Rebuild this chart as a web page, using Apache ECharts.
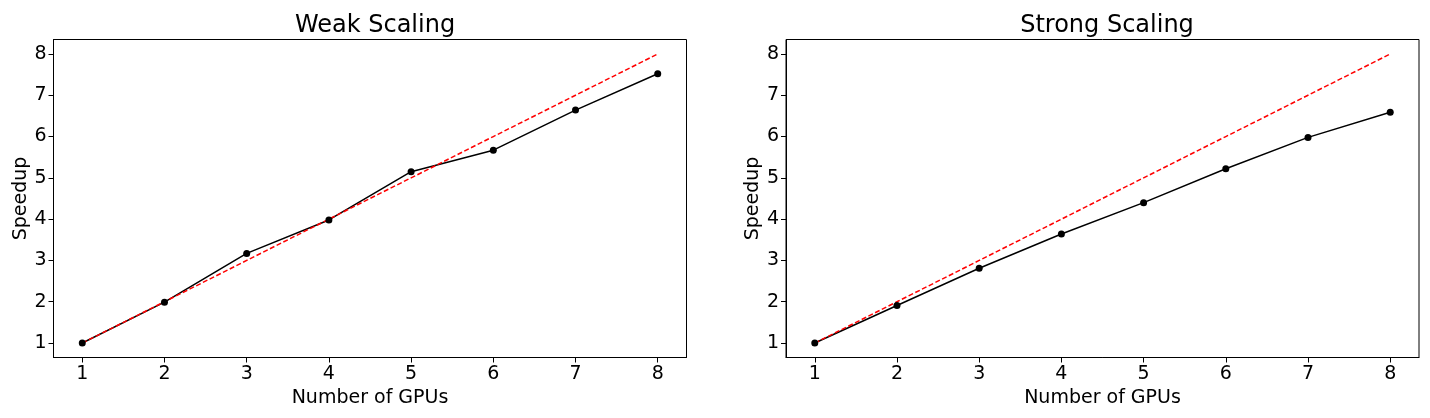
<!DOCTYPE html>
<html>
<head>
<meta charset="utf-8">
<script src="https://cdn.jsdelivr.net/npm/echarts@6/dist/echarts.min.js"></script>
<style>
  html, body { margin: 0; padding: 0; background: #fff; }
  #chart { width: 1430px; height: 418px; }
</style>
</head>
<body>
<div id="chart"></div>
<script>
    // number of GPUs
    var gpus = [1, 2, 3, 4, 5, 6, 7, 8];
    var weakSpeedup = [1.0, 1.99, 3.17, 3.98, 5.15, 5.67, 6.64, 7.52];
    var strongSpeedup = [1.0, 1.91, 2.81, 3.64, 4.40, 5.22, 5.98, 6.59];
    // ideal linear speedup
    var idealSpeedup = [1, 2, 3, 4, 5, 6, 7, 8];
    var tickValues = [1, 2, 3, 4, 5, 6, 7, 8];

    var font = 'DejaVu Sans';
    var myChart = echarts.init(document.getElementById('chart'));

    function pairs(xs, ys) {
        return xs.map(function (x, i) { return [x, ys[i]]; });
    }

    function xAxis(idx) {
        return {
            type: 'value', gridIndex: idx, min: 0.65, max: 8.35,
            name: 'Number of GPUs', nameLocation: 'middle', nameGap: 29,
            nameTextStyle: { fontFamily: font, fontSize: 19, color: '#000' },
            axisLine: { show: true, onZero: false, lineStyle: { color: '#000', width: 1 } },
            axisTick: { show: true, length: 5, customValues: tickValues, lineStyle: { color: '#000' } },
            axisLabel: { customValues: tickValues, fontFamily: font, fontSize: 19, color: '#000', margin: 7 },
            splitLine: { show: false }
        };
    }

    function yAxis(idx) {
        return {
            type: 'value', gridIndex: idx, min: 0.65, max: 8.35,
            name: 'Speedup', nameLocation: 'middle', nameGap: 22,
            nameTextStyle: { fontFamily: font, fontSize: 19, color: '#000' },
            axisLine: { show: true, onZero: false, lineStyle: { color: '#000', width: 1 } },
            axisTick: { show: true, length: 5, customValues: tickValues, lineStyle: { color: '#000' } },
            axisLabel: { customValues: tickValues, fontFamily: font, fontSize: 19, color: '#000', margin: 7 },
            splitLine: { show: false }
        };
    }

    function measured(idx, ys) {
        return {
            type: 'line', xAxisIndex: idx, yAxisIndex: idx,
            data: pairs(gpus, ys),
            symbol: 'circle', symbolSize: 7,
            itemStyle: { color: '#000' },
            lineStyle: { color: '#000', width: 1.5 },
            animation: false
        };
    }

    function ideal(idx) {
        return {
            type: 'line', xAxisIndex: idx, yAxisIndex: idx,
            data: pairs(gpus, idealSpeedup),
            showSymbol: false, symbol: 'none',
            lineStyle: { color: '#ff0000', width: 1.5, type: [5, 2.5] },
            animation: false
        };
    }

    var option = {
        backgroundColor: '#fff',
        title: [
            { text: 'Weak Scaling', left: 370, top: 9, textAlign: 'center',
              textStyle: { fontFamily: font, fontSize: 24, fontWeight: 'normal', color: '#000' } },
            { text: 'Strong Scaling', left: 1102, top: 9, textAlign: 'center',
              textStyle: { fontFamily: font, fontSize: 24, fontWeight: 'normal', color: '#000' } }
        ],
        grid: [
            { left: 53.5, top: 39.5, width: 633, height: 318, show: true, borderColor: '#000', borderWidth: 1 },
            { left: 786, top: 39.5, width: 633, height: 318, show: true, borderColor: '#000', borderWidth: 1 }
        ],
        xAxis: [xAxis(0), xAxis(1)],
        yAxis: [yAxis(0), yAxis(1)],
        series: [
            measured(0, weakSpeedup),
            ideal(0),
            measured(1, strongSpeedup),
            ideal(1)
        ]
    };

    myChart.setOption(option);
</script>
</body>
</html>
